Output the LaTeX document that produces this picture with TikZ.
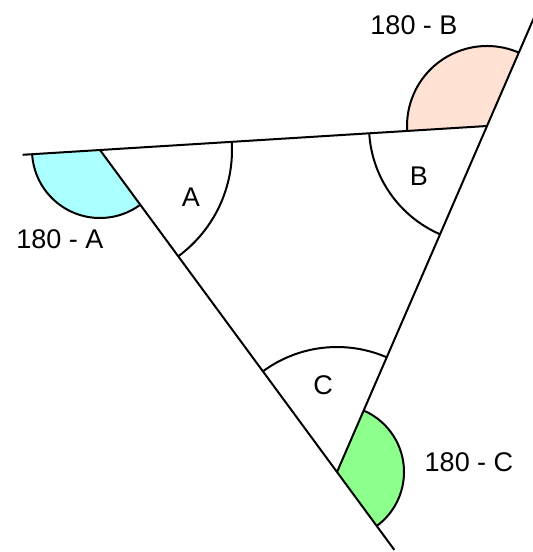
\documentclass[tikz,border=0pt]{standalone}
\usepackage{fontspec}
\setmainfont{Liberation Sans}
\usetikzlibrary{calc}

\definecolor{cyanfill}{RGB}{170,255,255}
\definecolor{peachfill}{RGB}{255,226,212}
\definecolor{greenfill}{RGB}{140,255,140}

\begin{document}
\begin{tikzpicture}[
  x=1pt, y=1pt,
  side/.style={line width=2pt},
  arcline/.style={line width=2pt},
  lbl/.style={font=\fontsize{27}{32}\selectfont, inner sep=0pt}
]
  \useasboundingbox (0,0) rectangle (533,-552);

  % triangle corners
  \coordinate (A) at (100,-150);
  \coordinate (B) at (487,-126);
  \coordinate (C) at (337,-472);
  % free ends of the extended sides
  \coordinate (Aext) at ($(B)!1.2!(A)$);
  \coordinate (Cext) at ($(A)!1.242!(C)$);
  \coordinate (Bext) at ($(C)!1.32!(B)$);

  % exterior angles
  \fill[cyanfill] (A) -- ++(183.5:68) arc[start angle=183.5, end angle=306.4, radius=68] -- cycle;
  \fill[peachfill] (B) -- ++(66.6:80) arc[start angle=66.6, end angle=183.5, radius=80] -- cycle;
  \fill[greenfill] (C) -- ++(-53.6:67) arc[start angle=-53.6, end angle=66.6, radius=67] -- cycle;

  % sides
  \draw[side] (Aext) -- (B);
  \draw[side] (A) -- (Cext);
  \draw[side] (C) -- (Bext);

  % angle arcs
  \draw[arcline] ($(A)+(183.5:68)$) arc[start angle=183.5, end angle=306.4, radius=68];
  \draw[arcline] ($(B)+(66.6:80)$) arc[start angle=66.6, end angle=183.5, radius=80];
  \draw[arcline] ($(C)+(-53.6:67)$) arc[start angle=-53.6, end angle=66.6, radius=67];
  \draw[arcline] ($(A)+(-53.6:132)$) arc[start angle=-53.6, end angle=3.5, radius=132];
  \draw[arcline] ($(B)+(183.5:118)$) arc[start angle=183.5, end angle=246.6, radius=118];
  \draw[arcline] ($(C)+(66.6:125)$) arc[start angle=66.6, end angle=126.4, radius=125];

  % labels
  \node[lbl] (angA) at (191,-197) {A};
  \node[lbl] (angB) at (419,-176) {B};
  \node[lbl] (angC) at (323,-385) {C};
  \node[lbl] (extA) at (60,-239) {180 - A};
  \node[lbl] (extB) at (414,-25) {180 - B};
  \node[lbl] (extC) at (469,-462) {180 - C};
\end{tikzpicture}
\end{document}
